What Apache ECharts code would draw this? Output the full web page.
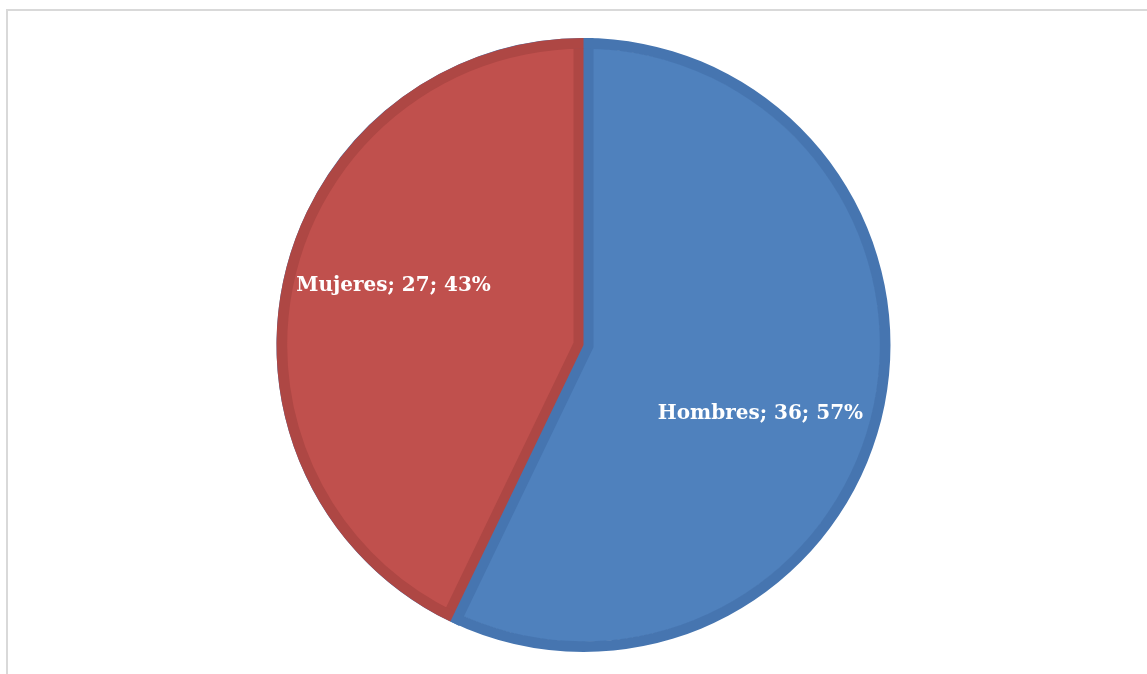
<!DOCTYPE html>
<html><head><meta charset="utf-8">
<script src="https://cdn.jsdelivr.net/npm/echarts@6/dist/echarts.min.js"></script>
<style>html,body{margin:0;padding:0;background:#fff}#c{width:1147px;height:674px}</style>
</head><body><div id="c"></div>
<script>
const categories = ['Hombres', 'Mujeres'];
const values = [36, 27];
const fillColors = ['#4f81bd', '#c0504d'];
const borderColors = ['#4675b0', '#ae4744'];

const CENTER = [583.5, 345];
const R_OUT = 307, R_IN = 297, BW = 10;
const NONE = 'rgba(0,0,0,0)';
const LABEL_SHIFT = [[-10, 3], [-3, 6]];

function items(styleFn) {
  return categories.map((name, i) => ({ name, value: values[i], itemStyle: styleFn(i) }));
}
const base = {
  type: 'pie', center: CENTER, startAngle: 90, clockwise: true, silent: true,
  animation: false, label: { show: false }, labelLine: { show: false },
  emphasis: { disabled: true }
};

const chart = echarts.init(document.getElementById('c'), null, { renderer: 'canvas' });
chart.setOption({
  backgroundColor: '#fff',
  graphic: [{
    type: 'rect', silent: true,
    shape: { x: 7, y: 10, width: 1400, height: 900 },
    style: { fill: 'none', stroke: '#d9d9d9', lineWidth: 2 }
  }],
  series: [
    Object.assign({}, base, { radius: R_IN, z: 1,
      data: items(() => ({ color: fillColors[0], borderWidth: 0 })) }),
    Object.assign({}, base, { radius: R_IN, z: 2,
      data: items(i => i === 1
        ? { color: borderColors[0], borderColor: borderColors[0], borderWidth: BW * 2, borderJoin: 'miter' }
        : { color: NONE, borderWidth: 0 }) }),
    Object.assign({}, base, { radius: R_IN, z: 3,
      data: items(i => i === 1 ? { color: borderColors[1], borderWidth: 0 } : { color: NONE, borderWidth: 0 }) }),
    Object.assign({}, base, { radius: R_IN - 1.5, z: 4,
      selectedMode: 'single', selectedOffset: BW / Math.sin(Math.PI * values[1] / (values[0] + values[1])),
      select: { itemStyle: { color: fillColors[1], borderWidth: 0 } },
      data: items(i => i === 1 ? { color: fillColors[1], borderWidth: 0 } : { color: NONE, borderWidth: 0 })
        .map((d, i) => i === 1 ? Object.assign(d, { selected: true }) : d) }),
    Object.assign({}, base, { radius: [R_IN - 0.7, R_OUT], z: 5,
      data: items(i => ({ color: borderColors[i], borderWidth: 0 })) }),
    Object.assign({}, base, { radius: 390, z: 6, startAngle: 83.6, percentPrecision: 0,
      label: { show: true, position: 'inside', formatter: '{b}; {c}; {d}%',
        color: '#ffffff', fontFamily: 'DejaVu Serif', fontWeight: 'bold', fontSize: 20 },
      labelLayout: p => ({ dx: LABEL_SHIFT[p.dataIndex][0], dy: LABEL_SHIFT[p.dataIndex][1] }),
      data: items(() => ({ color: NONE, borderWidth: 0 })) })
  ]
});
</script></body></html>
